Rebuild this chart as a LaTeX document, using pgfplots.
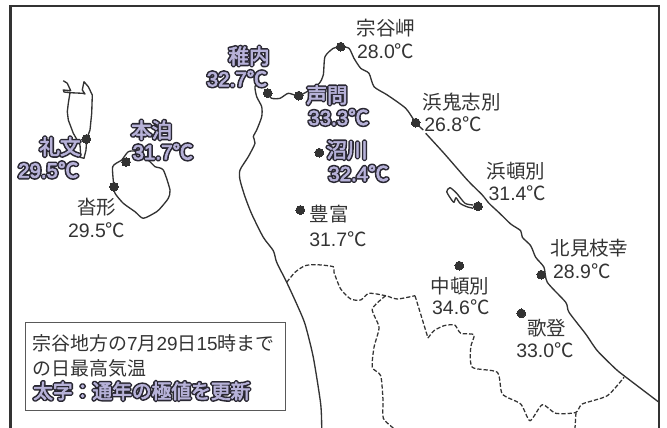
\documentclass[border=0pt]{standalone}
\usepackage{pgfplots}
\pgfplotsset{compat=1.18}
\usepackage{fontspec}
\setmainfont{Liberation Sans}
\newfontfamily\JP{Noto Sans CJK JP}
\newfontfamily\LA{Liberation Sans}
\definecolor{ink}{HTML}{333333}
\definecolor{lav}{HTML}{B7B2D9}
\definecolor{hal}{HTML}{2A2833}
\newcommand\halo[1]{\mbox{\rlap{\color{hal}\special{pdf:code 2 Tr 2.9 w 1 j 1 J}#1\special{pdf:code 0 Tr 1 w}}{\color{lav}\special{pdf:code 2 Tr 0.5 w 1 j}#1\special{pdf:code 0 Tr 1 w}}}}
\newcommand\Lbl[3]{\node[inner sep=0pt,text=ink] at (axis cs:#1,#2) {\fontsize{14.6}{17}\selectfont #3};}
\newcommand\Hbl[3]{\node[inner sep=0pt,text=ink] at (axis cs:#1,#2) {\fontsize{15.4}{17}\selectfont #3};}
\begin{document}
\begin{tikzpicture}
\path[use as bounding box] (0,0) rectangle (500.25pt,321pt);
\begin{axis}[at={(0,0)},anchor=south west,width=500.25pt,height=321pt,scale only axis,
  xmin=0,xmax=667,ymin=0,ymax=428,y dir=reverse,axis lines=none,clip=true]
% coast
\addplot[ink,line width=1pt,smooth,tension=0.4,line join=round] coordinates {
(259,80)(255,86.7)(256.7,96.7)(261.7,106.7)(261.7,116.7)(256.7,130)(253.3,136.7)(255,143.3)(248.3,156.7)(240,170)(240,180)(245,196.7)(251.7,214)(263.3,237.3)(273.3,250.7)(276.7,262.3)(286.7,282.3)(296.7,304)(305,324)(313.3,357.3)(320.7,404)(321.7,428)};
\addplot[ink,line width=1pt,smooth,tension=0.4,line join=round] coordinates {
(266.7,93.3)(271.7,98.3)(280,98.3)(288.3,93.3)(298.3,95.7)(310,90)(319.3,83.3)(323.3,75)(325,56.7)(333.3,48.3)(340.7,46.7)(349,48.3)(354,58.3)(360.7,68.3)(369,73.3)(374,86.7)(387.3,95)(405.7,108.3)(415.7,122.7)(423.3,130)};
\addplot[ink,line width=1pt,smooth,tension=0.4,line join=round] coordinates {
(425.7,133.3)(444,153.3)(467.3,180)(482.3,195)(489,203.3)(499.7,213.3)(510.7,224)(520.7,230.7)(522.3,237.3)(530.7,245.7)(535.7,257.3)(544,267.3)(547.3,282.3)(565.7,302.3)(569,312.3)(585.7,334)(597.3,350.7)(615.7,369)(624,375.7)(659,402.3)};
% Rebun
\addplot[ink,line width=1pt,line join=round] coordinates {
(63.3,80.7)(67.3,83.3)(70.7,90.7)(63.3,90)(64,92)(70,92.7)(82.7,93.3)(85,94)(82.3,90)(84,81.7)(88.3,86.7)(92.3,95)(91.7,113.3)(90,130)(86.7,139)(86,150)(84,158.3)(80,157.3)(80.7,155)(80,145)(73.3,133.3)(68.3,120)(67.3,111.7)(68.3,103.3)(70,92.7)};
% Rishiri
\addplot[ink,line width=1pt,smooth,tension=0.4,line join=round] coordinates {
(114,186.7)(112.7,166.7)(121.7,160)(128.3,151.7)(136.7,151.7)(150,161.7)(155,166.7)(163.3,170)(170,190)(168.3,198.3)(161.7,206.7)(156.7,211.7)(143.3,218.3)(135,211.7)(123.3,203.3)(115,193.3)(114,186.7)};
% lake
\addplot[ink,line width=1pt,smooth,tension=0.4,line join=round] coordinates {
(473.3,205)(465,203.3)(456.7,193.3)(450,187.7)(446.7,191.7)(451.7,200)(454,202.3)(456,197.7)(460,203.3)(466.7,206.7)(473.3,208.3)};
% borders
\pgfplotsset{bd/.style={ink,line width=0.95pt,dash pattern=on 3.2pt off 1.5pt,smooth,tension=0.4}}
\addplot[bd] coordinates {(286.7,282.3)(295,272.3)(305,265.7)(316.7,264.7)(333.3,266.7)(334,272.3)(340.7,289)(350.7,299)(360.7,300)(369,293.3)(385.7,295.7)(397.3,299)(415,295.7)};
\addplot[ink,line width=0.95pt,dash pattern=on 3.2pt off 1.5pt] coordinates {(415,295.7)(428,338)};
\addplot[bd] coordinates {(428,338)(434,330.7)(444,325.7)(454.7,325)(460.7,333.3)(474,334.7)(470.7,347.3)(472.3,367.3)(497.3,372.3)(502.3,394)(520.7,404)(530,420.7)(542.3,404.7)(555.7,413.3)(575.7,412.5)(582.3,404)(607.3,395.7)(624,377.3)};
\addplot[bd] coordinates {(385.7,295.7)(372.3,309)(379,327.3)(374,347.3)(372.3,367.3)(380.7,375.7)(383,400)(383.3,418.3)(393.3,428)};
\addplot[bd] coordinates {(576,412.5)(575,428)};
% frame
\addplot[color=ink,line width=2.1pt,line join=miter] coordinates {(10.5,428)(10.5,6)(659,6)(659,428)};
% legend box
\addplot[draw=black!65,fill=white,line width=0.7pt] coordinates {(25.7,322.3)(285,322.3)(285,410.7)(25.7,410.7)(25.7,322.3)};
% stations
\addplot[only marks,mark=*,mark size=3.3pt,mark options={fill=ink,draw=ink,line width=0pt}] coordinates {
(267.7,93)(298.7,95.7)(340.7,46.7)(415.7,122.7)(478,206.3)(541.3,274.7)(521.3,313.3)(459.3,265.7)(300.3,210)(319.3,152.7)(86.3,139)(126,162)(114,186.7)};
% plain labels
\Lbl{386}{28.3}{\JP 宗谷岬}
\Lbl{385.7}{51}{\LA 28.0\JP ℃}
\Lbl{461.8}{101.7}{\JP 浜鬼志別}
\Lbl{453}{124}{\LA 26.8\JP ℃}
\Lbl{515.8}{170.7}{\JP 浜頓別}
\Lbl{517.3}{192.7}{\LA 31.4\JP ℃}
\Lbl{589.5}{248.3}{\JP 北見枝幸}
\Lbl{581.8}{270.7}{\LA 28.9\JP ℃}
\Lbl{460}{286.3}{\JP 中頓別}
\Lbl{460.8}{307.3}{\LA 34.6\JP ℃}
\Lbl{546.7}{328}{\JP 歌登}
\Lbl{545}{349.7}{\LA 33.0\JP ℃}
\Lbl{329}{214}{\JP 豊富}
\Lbl{338}{239}{\LA 31.7\JP ℃}
\Lbl{96.7}{207}{\JP 沓形}
\Lbl{96.7}{229.7}{\LA 29.5\JP ℃}
% record labels
\Hbl{249}{56}{\halo{\JP 稚内}}
\Hbl{237}{78.7}{\halo{\LA 32.7\JP ℃}}
\Hbl{327}{95}{\halo{\JP 声問}}
\Hbl{338.5}{117.3}{\halo{\LA 33.3\JP ℃}}
\Hbl{347}{150}{\halo{\JP 沼川}}
\Hbl{358.5}{173.3}{\halo{\LA 32.4\JP ℃}}
\Hbl{60}{146.7}{\halo{\JP 礼文}}
\Hbl{48.3}{170}{\halo{\LA 29.5\JP ℃}}
\Hbl{151.7}{130}{\halo{\JP 本泊}}
\Hbl{162.8}{151.7}{\halo{\LA 31.7\JP ℃}}
% legend text
\node[inner sep=0pt,text=ink,anchor=west] at (axis cs:32.3,343) {\fontsize{14.2}{17}\selectfont\JP 宗谷地方の{\LA 7}月{\LA 29}日{\LA 15}時まで};
\node[inner sep=0pt,text=ink,anchor=west] at (axis cs:32.3,368) {\fontsize{14.2}{17}\selectfont\JP の日最高気温};
\node[inner sep=0pt,text=ink,anchor=west] at (axis cs:33,391) {\fontsize{14.8}{17}\selectfont\halo{\JP 太字：通年の極値を更新}};
\end{axis}
\end{tikzpicture}
\end{document}
